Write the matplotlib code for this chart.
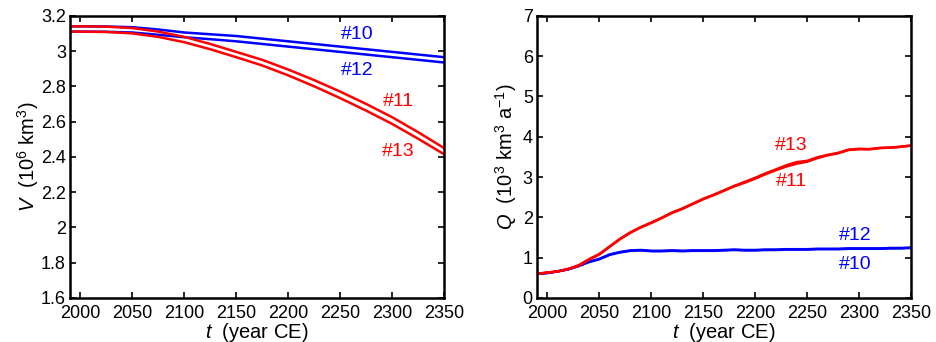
import numpy as np
import matplotlib
matplotlib.use("Agg")
import matplotlib.pyplot as plt

plt.rcParams['font.family'] = ['Liberation Sans', 'DejaVu Sans']
plt.rcParams['mathtext.fontset'] = 'custom'
plt.rcParams['mathtext.rm'] = 'Liberation Sans'
plt.rcParams['mathtext.it'] = 'Liberation Sans:italic'

# volume V (10^6 km^3), sampled every 25 years
years_v = [1990, 2000, 2025, 2050, 2075, 2100, 2125, 2150, 2175, 2200,
           2225, 2250, 2275, 2300, 2325, 2350]
v10 = [3.140, 3.140, 3.139, 3.135, 3.122, 3.105, 3.095, 3.085, 3.070, 3.055,
       3.040, 3.025, 3.010, 2.995, 2.980, 2.965]
v12 = [3.110, 3.110, 3.109, 3.105, 3.092, 3.078, 3.067, 3.055, 3.040, 3.025,
       3.010, 2.995, 2.980, 2.965, 2.950, 2.935]
v11 = [3.140, 3.140, 3.138, 3.130, 3.110, 3.080, 3.040, 2.995, 2.950, 2.895,
       2.835, 2.770, 2.700, 2.625, 2.540, 2.450]
v13 = [3.110, 3.110, 3.108, 3.100, 3.080, 3.050, 3.010, 2.965, 2.918, 2.862,
       2.800, 2.733, 2.662, 2.587, 2.503, 2.415]

# discharge Q (10^3 km^3 a^-1), sampled every 10 years
years_q = [1990, 2000, 2010, 2020, 2030, 2040, 2050, 2060, 2070, 2080, 2090,
           2100, 2110, 2120, 2130, 2140, 2150, 2160, 2170, 2180, 2190, 2200,
           2210, 2220, 2230, 2240, 2250, 2260, 2270, 2280, 2290, 2300, 2310,
           2320, 2330, 2340, 2350]
q10 = [0.60, 0.62, 0.66, 0.71, 0.79, 0.89, 0.96, 1.07, 1.13, 1.17, 1.18,
       1.16, 1.16, 1.17, 1.16, 1.17, 1.17, 1.17, 1.18, 1.19, 1.18, 1.18,
       1.19, 1.19, 1.20, 1.20, 1.20, 1.21, 1.21, 1.21, 1.22, 1.22, 1.22,
       1.22, 1.23, 1.23, 1.24]
q12 = [0.60, 0.62, 0.66, 0.71, 0.80, 0.90, 0.97, 1.08, 1.14, 1.18, 1.19,
       1.17, 1.17, 1.18, 1.17, 1.18, 1.18, 1.18, 1.19, 1.20, 1.19, 1.19,
       1.20, 1.20, 1.21, 1.21, 1.21, 1.22, 1.22, 1.22, 1.23, 1.23, 1.23,
       1.23, 1.24, 1.24, 1.25]
q11 = [0.60, 0.63, 0.66, 0.72, 0.80, 0.95, 1.08, 1.27, 1.46, 1.62, 1.75,
       1.86, 1.98, 2.11, 2.21, 2.33, 2.45, 2.55, 2.66, 2.77, 2.86, 2.96,
       3.07, 3.17, 3.26, 3.33, 3.38, 3.47, 3.54, 3.59, 3.67, 3.69, 3.69,
       3.72, 3.73, 3.75, 3.78]
q13 = [0.60, 0.63, 0.66, 0.72, 0.81, 0.96, 1.09, 1.28, 1.47, 1.63, 1.76,
       1.87, 1.99, 2.12, 2.22, 2.34, 2.46, 2.56, 2.67, 2.78, 2.88, 2.98,
       3.09, 3.19, 3.29, 3.37, 3.40, 3.49, 3.55, 3.60, 3.68, 3.70, 3.69,
       3.72, 3.73, 3.75, 3.78]

v_ticks = [1.6, 1.8, 2, 2.2, 2.4, 2.6, 2.8, 3, 3.2]
q_ticks = [0, 1, 2, 3, 4, 5, 6, 7]
x_ticks = [2000, 2050, 2100, 2150, 2200, 2250, 2300, 2350]

blue = (0, 0, 1)
red = (1, 0, 0)
fs_tick = 13
fs_lab = 14.5
fs_run = 14

fig = plt.figure(figsize=(9.36, 3.42), dpi=100)
ax1 = fig.add_axes([0.0748, 0.1287, 0.3996, 0.8253])
ax2 = fig.add_axes([0.5737, 0.1287, 0.3996, 0.8253])

ax1.plot(years_v, v10, color=blue, lw=1.8)
ax1.plot(years_v, v12, color=blue, lw=1.8)
ax1.plot(years_v, v11, color=red, lw=1.8)
ax1.plot(years_v, v13, color=red, lw=1.8)
ax1.set_ylim(1.6, 3.2)
ax1.set_yticks(v_ticks)
ax1.set_yticklabels(['%g' % t for t in v_ticks])
ax1.set_ylabel(r'$\it{V}$  (10$^6$ km$^3$)', fontsize=fs_lab, labelpad=0)
ax1.text(2266, 3.096, '#10', color=blue, fontsize=fs_run, ha='center', va='center')
ax1.text(2266, 2.89, '#12', color=blue, fontsize=fs_run, ha='center', va='center')
ax1.text(2306, 2.712, '#11', color=red, fontsize=fs_run, ha='center', va='center')
ax1.text(2306, 2.43, '#13', color=red, fontsize=fs_run, ha='center', va='center')

ax2.plot(years_q, q10, color=blue, lw=1.8)
ax2.plot(years_q, q12, color=blue, lw=1.8)
ax2.plot(years_q, q11, color=red, lw=1.8)
ax2.plot(years_q, q13, color=red, lw=1.8)
ax2.set_ylim(0, 7)
ax2.set_yticks(q_ticks)
ax2.set_ylabel(r'$\it{Q}$  (10$^3$ km$^3$ a$^{-1}$)', fontsize=fs_lab, labelpad=3)
ax2.text(2235, 3.77, '#13', color=red, fontsize=fs_run, ha='center', va='center')
ax2.text(2235, 2.89, '#11', color=red, fontsize=fs_run, ha='center', va='center')
ax2.text(2296, 1.56, '#12', color=blue, fontsize=fs_run, ha='center', va='center')
ax2.text(2296, 0.82, '#10', color=blue, fontsize=fs_run, ha='center', va='center')

for ax in (ax1, ax2):
    ax.set_xlim(1990, 2350)
    ax.set_xticks(x_ticks)
    ax.set_xlabel(r'$\it{t}$  (year CE)', fontsize=fs_lab, labelpad=-1)
    ax.tick_params(direction='in', top=True, right=True, length=4, width=1.2,
                   labelsize=fs_tick)
    ax.tick_params(axis='x', pad=5)
    ax.tick_params(axis='y', pad=3)
    for s in ax.spines.values():
        s.set_linewidth(1.8)

fig.savefig('out.png', dpi=100)
